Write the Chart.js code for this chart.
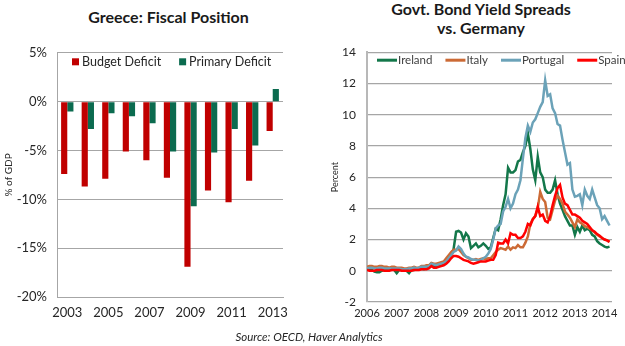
<!DOCTYPE html>
<html>
<head>
<meta charset="utf-8">
<title>Greece: Fiscal Position / Govt. Bond Yield Spreads</title>
<script src="https://cdn.jsdelivr.net/npm/chart.js@4.4.1/dist/chart.umd.min.js"></script>
<style>
  body { margin: 0; background: #fff; font-family: Lato, 'Open Sans', sans-serif; color: #262626; }
  #page { position: relative; width: 625px; height: 346px; overflow: hidden; }
  .title { position: absolute; transform: translateX(-50%); font-weight: bold; font-size: 16px; line-height: 19px; text-align: center; white-space: nowrap; color: #1a1a1a; }
  #leftTitle { left: 168.5px; top: 6.5px; }
  #rightTitle { left: 481px; top: -1px; }
  #source { position: absolute; left: 309px; top: 330px; transform: translateX(-50%); font-style: italic; font-size: 11.5px; line-height: 14px; white-space: nowrap; }
  #fiscalBox { position: absolute; left: 0; top: 35px; }
  #spreadBox { position: absolute; left: 330px; top: 34px; }
  canvas { display: block; }
</style>
</head>
<body>
<div id="page">
  <div class="title" id="leftTitle">Greece: Fiscal Position</div>
  <div class="title" id="rightTitle">Govt. Bond Yield Spreads<br>vs. Germany</div>
  <div id="fiscalBox"><canvas id="fiscalChart" width="300" height="295"></canvas></div>
  <div id="spreadBox"><canvas id="spreadChart" width="295" height="298"></canvas></div>
  <div id="source">Source: OECD, Haver Analytics</div>
</div>

<script>
// Greece fiscal balance, % of GDP
const years = ['2003', '2004', '2005', '2006', '2007', '2008', '2009', '2010', '2011', '2012', '2013'];
const budgetDeficit = [-7.4, -8.7, -7.9, -5.1, -6.0, -7.8, -16.9, -9.1, -10.3, -8.1, -3.0];
const primaryDeficit = [-1.0, -2.8, -1.2, -1.5, -2.2, -5.1, -10.7, -5.2, -2.8, -4.5, 1.3];

// 10y spreads vs. Bund, monthly from Jan 2006 to Mar 2014
const spreadStart = 2006;
const ireland = [
  0.1, 0.05, 0.05, -0.05, -0.1, -0.1, 0.0, 0.05, 0.05, 0.05, 0.1, 0.05,
  -0.15, 0.05, 0.05, 0.05, 0.0, -0.15, 0.05, 0.05, 0.1, 0.1, 0.15, 0.1,
  0.2, 0.25, 0.4, 0.3, 0.3, 0.35, 0.4, 0.45, 0.6, 0.8, 1.0, 1.4,
  2.5, 2.55, 2.45, 2.0, 2.4, 2.2, 1.45, 1.6, 1.75, 1.5, 1.6, 1.75,
  1.6, 1.4, 1.5, 2.1, 2.7, 2.6, 3.3, 4.2, 4.9, 6.6, 6.3, 6.3,
  6.45, 7.0, 7.1, 7.6, 8.0, 8.8, 7.8, 6.5, 5.8, 7.3, 6.3, 6.0,
  5.2, 5.0, 5.0, 5.2, 5.8, 4.9, 4.3, 3.9, 3.5, 3.2, 2.9, 2.9,
  2.3, 2.8, 2.5, 2.9, 2.6, 2.7, 2.6, 2.3, 2.2, 1.9, 1.75, 1.65,
  1.55, 1.5, 1.55
];
const italy = [
  0.25, 0.3, 0.3, 0.25, 0.25, 0.3, 0.3, 0.25, 0.25, 0.2, 0.25, 0.25,
  0.2, 0.2, 0.2, 0.15, 0.15, 0.2, 0.2, 0.25, 0.2, 0.2, 0.3, 0.3,
  0.35, 0.35, 0.5, 0.45, 0.45, 0.5, 0.55, 0.6, 0.8, 1.0, 1.2, 1.35,
  1.35, 1.4, 1.2, 1.0, 0.9, 0.8, 0.7, 0.7, 0.75, 0.7, 0.75, 0.8,
  0.75, 0.8, 0.8, 1.0, 1.2, 1.35, 1.45, 1.4, 1.35, 1.55, 1.35, 1.5,
  1.45, 1.65, 1.5, 1.5, 1.8, 2.2, 3.0, 3.3, 3.5, 4.0, 5.05, 4.6,
  4.4, 3.4, 3.3, 3.9, 4.5, 4.8, 4.6, 4.3, 3.8, 3.6, 3.4, 3.1,
  2.8, 3.3, 3.1, 3.0, 2.85, 2.8, 2.7, 2.6, 2.45, 2.3, 2.2, 2.1,
  2.0, 1.95, 1.85
];
const portugal = [
  0.15, 0.2, 0.2, 0.15, 0.15, 0.2, 0.2, 0.15, 0.15, 0.15, 0.15, 0.15,
  0.15, 0.15, 0.1, 0.1, 0.1, 0.15, 0.15, 0.2, 0.15, 0.2, 0.25, 0.25,
  0.25, 0.3, 0.45, 0.4, 0.35, 0.4, 0.45, 0.5, 0.6, 0.8, 1.0, 1.2,
  1.3, 1.55, 1.4, 1.1, 0.9, 0.85, 0.75, 0.7, 0.7, 0.65, 0.7, 0.8,
  0.9, 1.1, 1.4, 2.0, 2.7, 2.9, 3.0, 3.8, 4.1, 4.6, 4.0, 4.3,
  4.9, 5.2, 5.8, 7.2, 8.5, 9.3, 8.9, 9.5, 9.7, 10.1, 10.5, 10.8,
  12.2, 11.2, 11.3, 10.4, 10.1, 9.4, 9.3, 8.4, 7.6, 6.8, 6.9, 5.2,
  4.75, 4.8, 4.9, 4.2, 5.2, 4.8, 4.6, 5.2, 4.7, 4.2, 4.0, 3.3,
  3.5, 3.2, 2.9
];
const spain = [
  0.05, 0.0, 0.0, 0.0, 0.05, 0.05, 0.05, 0.0, 0.0, 0.0, 0.05, 0.05,
  0.05, 0.05, 0.0, 0.0, 0.0, 0.0, 0.0, 0.05, 0.05, 0.05, 0.1, 0.1,
  0.1, 0.15, 0.3, 0.2, 0.2, 0.25, 0.3, 0.35, 0.45, 0.6, 0.8, 0.95,
  0.95, 0.9, 0.8, 0.7, 0.65, 0.6, 0.5, 0.45, 0.5, 0.55, 0.6, 0.6,
  0.6, 0.65, 0.7, 0.7, 1.0, 1.8, 1.75, 1.75, 2.0, 1.75, 2.4, 2.3,
  2.3, 2.1, 2.1, 2.2, 2.5, 3.0, 2.9, 3.3, 3.5, 4.1, 3.5, 3.6,
  3.2, 3.1, 3.5, 4.2, 4.8, 5.3, 5.5, 4.7, 4.3, 4.2, 3.9, 3.6,
  3.6, 3.5, 3.4, 3.2, 3.1, 3.0, 2.8, 2.6, 2.5, 2.35, 2.25, 2.1,
  2.0, 1.95, 1.85
];

const FONT = 'Lato, "Open Sans", sans-serif';
const GRID = '#a6a6a6';

// legend drawn inside the plot area, near the top (like the Excel original)
const insideLegend = {
  id: 'insideLegend',
  afterDraw(chart, args, opts) {
    const ctx = chart.ctx;
    let x = chart.chartArea.left + opts.x;
    const y = chart.chartArea.top + opts.y;
    ctx.save();
    ctx.font = opts.font;
    ctx.textBaseline = 'middle';
    chart.data.datasets.forEach(ds => {
      if (opts.marker === 'box') {
        ctx.fillStyle = ds.backgroundColor;
        ctx.fillRect(x, y - 3.5, 7, 7);
        x += 10;
      } else {
        ctx.strokeStyle = ds.borderColor;
        ctx.lineWidth = 3;
        ctx.beginPath();
        ctx.moveTo(x, y);
        ctx.lineTo(x + 20, y);
        ctx.stroke();
        x += 21;
      }
      ctx.fillStyle = opts.color;
      ctx.fillText(ds.label, x, y);
      x += ctx.measureText(ds.label).width + opts.gap;
    });
    ctx.restore();
  }
};

// Left: Greece fiscal position
new Chart(document.getElementById('fiscalChart'), {
  type: 'bar',
  data: {
    labels: years,
    datasets: [
      { label: 'Budget Deficit', data: budgetDeficit, backgroundColor: '#c00000' },
      { label: 'Primary Deficit', data: primaryDeficit, backgroundColor: '#0b6b4f' }
    ]
  },
  options: {
    responsive: false,
    animation: false,
    layout: { autoPadding: false, padding: { top: 7, right: 17, left: 0, bottom: 0 } },
    datasets: { bar: { categoryPercentage: 0.6, barPercentage: 1.0 } },
    scales: {
      x: {
        grid: { display: false, drawTicks: false },
        border: { display: true, color: GRID, width: 1 },
        ticks: {
          autoSkip: false,
          maxRotation: 0,
          padding: 8,
          color: '#262626',
          font: { family: FONT, size: 13 },
          callback: (v, i) => (i % 2 === 0 ? years[i] : '')
        },
        afterFit: scale => { scale.height = 33; }
      },
      y: {
        min: -20,
        max: 5,
        ticks: {
          stepSize: 5,
          padding: 10,
          color: '#262626',
          font: { family: FONT, size: 13 },
          callback: v => v + '%'
        },
        grid: { color: GRID, drawTicks: false },
        border: { display: true, color: GRID, width: 1 },
        title: {
          display: true,
          text: '% of GDP',
          color: '#262626',
          font: { family: FONT, size: 10 },
          padding: { top: 3, bottom: 0 }
        },
        afterFit: scale => { scale.width = 57; }
      }
    },
    plugins: {
      legend: { display: false },
      tooltip: { enabled: false },
      insideLegend: { x: 15, y: 9, gap: 18, marker: 'box', color: '#262626', font: '12.5px ' + FONT }
    }
  },
  plugins: [insideLegend]
});

// Right: spreads vs. Germany
const spreadPoints = series => series.map((v, i) => ({ x: spreadStart + i / 12, y: v }));

new Chart(document.getElementById('spreadChart'), {
  type: 'line',
  data: {
    datasets: [
      { label: 'Ireland', data: spreadPoints(ireland), borderColor: '#13774a', order: 4 },
      { label: 'Italy', data: spreadPoints(italy), borderColor: '#cc6a35', order: 3 },
      { label: 'Portugal', data: spreadPoints(portugal), borderColor: '#6ba2b8', order: 2 },
      { label: 'Spain', data: spreadPoints(spain), borderColor: '#ff0000', order: 1 }
    ]
  },
  options: {
    responsive: false,
    animation: false,
    layout: { autoPadding: false, padding: { top: 6, right: 13, left: 0, bottom: 0 } },
    elements: {
      line: { borderWidth: 2.5, tension: 0, fill: false },
      point: { radius: 0 }
    },
    scales: {
      x: {
        type: 'linear',
        min: 2006,
        max: 2014.25,
        grid: { display: false, drawTicks: false },
        border: { display: false },
        ticks: {
          stepSize: 1,
          includeBounds: false,
          autoSkip: false,
          maxRotation: 0,
          padding: 5,
          color: '#262626',
          font: { family: FONT, size: 11 },
          callback: v => (Number.isInteger(v) ? String(v) : '')
        },
        afterFit: scale => { scale.height = 30; }
      },
      y: {
        min: -2,
        max: 14,
        ticks: {
          stepSize: 2,
          padding: 11,
          color: '#262626',
          font: { family: FONT, size: 12 }
        },
        grid: { color: GRID, drawTicks: false, lineWidth: 1.2 },
        border: { display: true, color: '#b8b8b8', width: 2 },
        title: {
          display: true,
          text: 'Percent',
          color: '#262626',
          font: { family: FONT, size: 9 },
          padding: { top: 0, bottom: 0 }
        },
        afterFit: scale => { scale.width = 37; }
      }
    },
    plugins: {
      legend: { display: false },
      tooltip: { enabled: false },
      insideLegend: { x: 10, y: 8, gap: 13, marker: 'line', color: '#404040', font: '11.5px ' + FONT }
    }
  },
  plugins: [insideLegend]
});
</script>
</body>
</html>
